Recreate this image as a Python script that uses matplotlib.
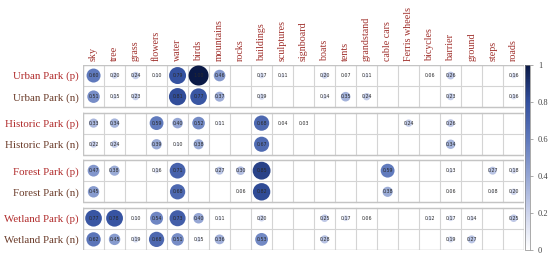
import matplotlib
matplotlib.use('Agg')
import matplotlib.pyplot as plt
import numpy as np
from matplotlib.colors import LinearSegmentedColormap

nan = np.nan

columns = ['sky', 'tree', 'grass', 'flowers', 'water', 'birds', 'mountains', 'rocks',
           'buildings', 'sculptures', 'signboard', 'boats', 'tents', 'grandstand',
           'cable cars', 'Ferris wheels', 'bicycles', 'barrier', 'ground', 'steps', 'roads']

rows = ['Urban Park (p)', 'Urban Park (n)', 'Historic Park (p)', 'Historic Park (n)',
        'Forest Park (p)', 'Forest Park (n)', 'Wetland Park (p)', 'Wetland Park (n)']

urban_p = [0.60, 0.20, 0.24, 0.10, 0.79, 1.00, 0.46, nan, 0.17, 0.11, nan, 0.20, 0.07, 0.11,
           nan, nan, 0.06, 0.26, nan, nan, 0.16]
urban_n = [0.51, 0.15, 0.23, nan, 0.81, 0.77, 0.37, nan, 0.19, nan, nan, 0.14, 0.35, 0.24,
           nan, nan, nan, 0.23, nan, nan, 0.16]
historic_p = [0.33, 0.34, nan, 0.59, 0.40, 0.52, 0.11, nan, 0.68, 0.04, 0.03, nan, nan, nan,
              nan, 0.24, nan, 0.26, nan, nan, nan]
historic_n = [0.22, 0.24, nan, 0.39, 0.10, 0.38, nan, nan, 0.67, nan, nan, nan, nan, nan,
              nan, nan, nan, 0.34, nan, nan, nan]
forest_p = [0.47, 0.38, nan, 0.16, 0.71, nan, 0.27, 0.30, 0.85, nan, nan, nan, nan, nan,
            0.59, nan, nan, 0.13, nan, 0.27, 0.18]
forest_n = [0.45, nan, nan, nan, 0.68, nan, nan, 0.06, 0.82, nan, nan, nan, nan, nan,
            0.38, nan, nan, 0.06, nan, 0.08, 0.20]
wetland_p = [0.77, 0.78, 0.10, 0.54, 0.73, 0.40, 0.11, nan, 0.20, nan, nan, 0.25, 0.17, 0.06,
             nan, nan, 0.12, 0.17, 0.14, nan, 0.25]
wetland_n = [0.62, 0.45, 0.19, 0.68, 0.51, 0.15, 0.36, nan, 0.53, nan, nan, 0.28, nan, nan,
             nan, nan, nan, 0.19, 0.27, nan, nan]

data = np.array([urban_p, urban_n, historic_p, historic_n,
                 forest_p, forest_n, wetland_p, wetland_n])

cmap = LinearSegmentedColormap.from_list(
    'blu', ['#ffffff', '#cdd4ec', '#95a6d4', '#5f79bc', '#33509f', '#0a1946'])

gap = 0.25
# y position of each row: groups of two with a gap between
ypos = np.array([i + (i // 2) * gap for i in range(len(rows))]) + 0.5
ncol = len(columns)

fig = plt.figure(figsize=(5.5, 2.62), dpi=100)
ax = fig.add_axes([0.151, 0.046, 0.802, 0.706])
ax.set_xlim(0, ncol)
ax.set_ylim(8 + 3 * gap, 0)

# cell grid, one box per group
for g in range(4):
    top = ypos[2 * g] - 0.5
    for k in range(3):
        ax.plot([0, ncol], [top + k, top + k], color='#d4d4d4', lw=0.8, zorder=1)
    for c in range(ncol + 1):
        ax.plot([c, c], [top, top + 2], color='#d4d4d4', lw=0.8, zorder=1)
    ax.plot([0, ncol, ncol, 0, 0], [top, top, top + 2, top + 2, top],
            color='#c4c4c4', lw=1.0, zorder=1)

xx, yy = np.meshgrid(np.arange(ncol) + 0.5, ypos)
vals = data.ravel()
ok = ~np.isnan(vals)
diam_pt = 20.0 * vals[ok] ** 0.7 * 0.72
sc = ax.scatter(xx.ravel()[ok], yy.ravel()[ok], s=diam_pt ** 2, c=vals[ok], cmap=cmap,
                vmin=0, vmax=1, edgecolors='none', zorder=2)

for x, y, v in zip(xx.ravel()[ok], yy.ravel()[ok], vals[ok]):
    ax.text(x, y, '%.2f' % v, ha='center', va='center', fontsize=3.4,
            color='#2a2a2a', zorder=3)

for s in ax.spines.values():
    s.set_visible(False)

ax.xaxis.tick_top()
ax.set_xticks(np.arange(ncol) + 0.5)
ax.set_xticklabels(columns, rotation=90, fontsize=7.2, family='Liberation Serif',
                   color='#a0302c')
ax.set_yticks(ypos)
ax.set_yticklabels(rows, fontsize=7.8, family='Liberation Serif')
for i, t in enumerate(ax.get_yticklabels()):
    t.set_color('#b02a2a' if i % 2 == 0 else '#6a3a28')
ax.tick_params(length=0, pad=3)

cax = fig.add_axes([0.9545, 0.046, 0.0095, 0.706])
cb = fig.colorbar(sc, cax=cax, ticks=[0, 0.2, 0.4, 0.6, 0.8, 1])
cb.ax.set_yticklabels(['0', '0.2', '0.4', '0.6', '0.8', '1'], family='Liberation Serif',
                      fontsize=6, color='#444444')
cb.ax.tick_params(length=2, width=0.5, color='#888888')
cb.outline.set_linewidth(0.5)
cb.outline.set_edgecolor('#888888')

fig.savefig('out.png', dpi=100)
